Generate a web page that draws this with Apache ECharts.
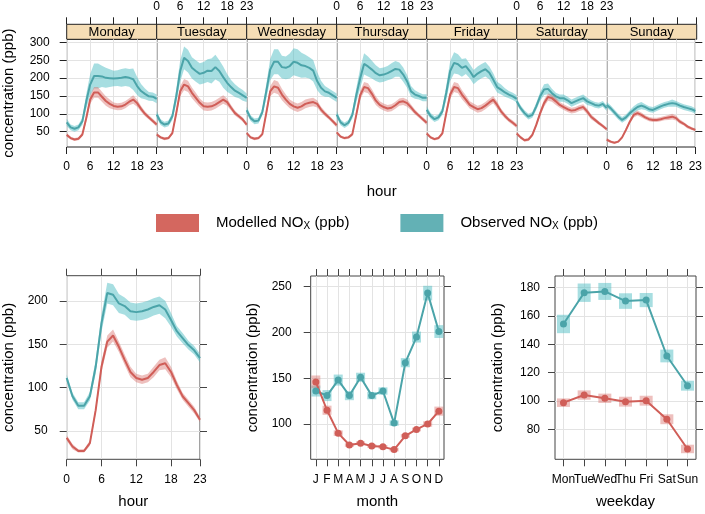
<!DOCTYPE html>
<html><head><meta charset="utf-8">
<script src="https://cdn.jsdelivr.net/npm/echarts@6/dist/echarts.min.js"></script>
<style>html,body{margin:0;padding:0;background:#fff}#c{width:705px;height:514px}</style>
</head><body><div id="c"></div>
<script>
// ---------- DATA ----------
const days = ['Monday','Tuesday','Wednesday','Thursday','Friday','Saturday','Sunday'];
const hours = ['0','1','2','3','4','5','6','7','8','9','10','11','12','13','14','15','16','17','18','19','20','21','22','23'];
const hourTicks = ['0','6','12','18','23'];

const obsMon = [76,62,58,62,79,135,182,206,206,205,201,200,199,200,201,203,201,197,178,164,156,149,148,142];
const modMon = [41,32,28,30,42,88,140,160,160,148,136,128,122,120,121,126,134,140,130,114,100,90,80,70];
const obsTue = [98,77,70,73,93,149,220,257,248,229,220,212,215,221,220,231,220,203,187,175,165,159,152,145];
const modTue = [42,34,30,32,46,102,163,182,177,159,145,131,121,120,121,126,133,140,133,117,102,93,84,70];
const obsWed = [110,88,79,81,105,163,224,246,246,231,229,234,246,243,236,234,229,221,192,173,163,159,152,145];
const modWed = [46,34,30,32,43,102,163,177,173,154,140,128,121,117,121,128,131,133,128,112,100,90,79,68];
const obsThu = [98,76,68,75,97,152,200,240,233,224,214,208,210,214,220,226,224,210,191,163,154,150,145,145];
const modThu = [48,36,32,34,43,97,152,175,172,156,137,125,119,115,117,124,133,135,130,118,105,95,85,75];
const obsFri = [111,94,85,90,107,159,220,243,239,229,234,220,203,213,220,225,215,196,175,168,160,154,149,142];
const modFri = [45,34,29,32,45,102,154,175,172,154,140,125,119,113,116,123,132,140,125,107,94,83,75,66];
const obsSat = [135,116,102,92,97,121,149,168,170,158,149,144,144,138,130,135,140,144,135,130,125,123,128,116];
const modSat = [45,34,26,28,41,69,102,130,147,144,135,125,119,113,109,111,116,119,107,92,83,74,66,57];
const obsSun = [125,116,104,92,83,90,102,111,119,123,119,113,111,116,121,125,128,130,128,123,119,116,113,108];
const modSun = [28,22,19,22,34,55,78,97,102,97,90,85,83,83,85,88,90,92,88,78,72,64,59,55];

// confidence-interval half widths
const ciObsMon = [10,8,8,8,10,20,30,35,35,30,28,25,22,22,25,25,25,30,25,20,15,12,12,12];
const ciObsTue = [10,8,8,8,10,20,30,32,32,30,30,30,30,32,35,35,30,30,25,20,18,15,15,12];
const ciObsWed = [10,8,8,8,10,20,30,35,35,32,32,35,38,38,35,32,30,30,25,20,15,12,12,12];
const ciObsThu = [10,8,8,8,10,20,28,30,28,25,22,20,20,20,22,22,20,20,18,15,12,10,10,10];
const ciObsFri = [10,8,8,8,10,20,28,30,28,25,22,20,20,20,20,20,18,18,15,14,12,10,10,10];
const ciObsSat = [8,8,8,8,8,10,12,15,15,12,10,10,10,10,10,10,10,10,10,8,8,8,8,8];
const ciObsSun = [8,8,8,8,8,8,8,10,10,10,8,8,8,8,8,8,8,10,8,8,8,8,8,8];
const ciModMon = [5,4,4,4,5,10,12,15,15,14,13,12,10,10,10,10,10,12,10,8,7,6,6,6];
const ciModTue = [5,4,4,4,5,10,14,16,16,15,14,12,12,12,12,12,12,12,10,8,7,6,6,6];
const ciModWed = [5,4,4,4,5,10,14,18,18,16,14,12,12,12,12,12,12,12,10,8,7,6,6,6];
const ciModThu = [5,4,4,4,5,10,12,14,14,13,12,10,10,10,10,10,10,10,10,8,7,6,6,6];
const ciModFri = [5,4,4,4,5,10,12,14,14,13,12,10,10,10,10,10,10,10,10,8,7,6,6,6];
const ciModSat = [5,4,4,4,5,6,8,10,10,10,10,8,8,8,8,8,8,8,8,7,6,5,5,5];
const ciModSun = [4,4,3,3,4,5,6,7,7,7,6,6,6,6,6,6,7,8,7,6,5,5,4,4];

const obsHour = [111,90,79,79,90,124,174,209,207,197,194,188,187,188,190,193,195,190,178,165,157,149,143,134];
const modHour = [42,32,27,27,36,74,124,153,160,147,132,118,111,109,111,118,126,128,118,103,90,82,74,63];
const ciObsHour = [4,4,4,4,5,8,10,12,12,11,10,10,10,10,10,10,10,10,8,6,6,5,5,5];
const ciModHour = [3,3,2,2,3,4,6,7,7,6,6,6,5,5,5,6,6,7,6,5,4,4,4,3];

const months = ['J','F','M','A','M','J','J','A','S','O','N','D'];
const obsMonth = [136,131,148,131,151,131,136,101,167,195,243,201];
const modMonth = [146,115,90,77,79,76,75,72,87,94,100,114];
const ciObsMonth = [6,6,6,5,5,4,4,3,5,6,8,7];
const ciModMonth = [7,5,3,2,2,2,2,2,2,2,3,5];

const weekdays = ['Mon','Tue','Wed','Thu','Fri','Sat','Sun'];
const obsWeekday = [154.4,176.5,177.4,170.6,171.3,131.8,110.8];
const modWeekday = [98.8,104.2,101.9,99.5,100.2,87.1,66.1];
const ciObsWeekday = [6.5,6.5,6,5.5,5,4.5,3.5];
const ciModWeekday = [3,3.3,3.3,3.5,3.5,3.5,3];

const topYTicks = [50,100,150,200,250,300];
const hourYTicks = [50,100,150,200];
const monthYTicks = [100,150,200,250];
const weekdayYTicks = [80,100,120,140,160,180];

const modName = 'Modelled NOX (ppb)';
const obsName = 'Observed NOX (ppb)';

// ---------- STYLE ----------
const FONT = 'Liberation Sans, Arial, sans-serif';
const RED = '#D05E58', TEAL = '#4BA4A9';
const RED_BAND = 'rgba(214,105,100,0.42)', TEAL_BAND = 'rgba(80,190,196,0.5)';
const RED_KEY = '#D4675F', TEAL_KEY = '#63B1B5';
const GRIDC = '#E3E3E3', FRAME = '#222', FRAME2 = '#444', STRIP = '#F5DDB5';

const perDay = [
  [obsMon, ciObsMon, modMon, ciModMon],
  [obsTue, ciObsTue, modTue, ciModTue],
  [obsWed, ciObsWed, modWed, ciModWed],
  [obsThu, ciObsThu, modThu, ciModThu],
  [obsFri, ciObsFri, modFri, ciModFri],
  [obsSat, ciObsSat, modSat, ciModSat],
  [obsSun, ciObsSun, modSun, ciModSun]
];

const grid = [], xAxis = [], yAxis = [], series = [], graphic = [];
const isHourTick = (i) => hourTicks.indexOf(hours[i]) >= 0;
const lab = (extra) => Object.assign({fontSize: 12, color: '#000', fontFamily: FONT}, extra);
const hiddenY = (gi) => ({gridIndex: gi, type: 'value', min: 0, max: 1, show: false,
  axisLine: {show: false}, axisTick: {show: false}, axisLabel: {show: false}, splitLine: {show: false}});

function addBand(xi, yi, mean, ci, color, stackId) {
  series.push({type: 'line', xAxisIndex: xi, yAxisIndex: yi, data: mean.map((v, i) => v - ci[i]),
    stack: stackId, symbol: 'none', lineStyle: {opacity: 0}, silent: true, z: 1});
  series.push({type: 'line', xAxisIndex: xi, yAxisIndex: yi, data: ci.map(c => 2 * c),
    stack: stackId, symbol: 'none', lineStyle: {opacity: 0}, areaStyle: {color: color, opacity: 1}, silent: true, z: 1});
}
function addLine(xi, yi, name, data, color, sym) {
  series.push({type: 'line', name: name, xAxisIndex: xi, yAxisIndex: yi, data: data,
    symbol: sym ? 'circle' : 'none', symbolSize: 7, showSymbol: !!sym,
    itemStyle: {color: color}, lineStyle: {color: color, width: 2}, z: 3});
}
function boxRender(width) {
  return function (params, api) {
    const x = api.value(0), lo = api.value(1), hi = api.value(2);
    const p1 = api.coord([x, hi]), p2 = api.coord([x, lo]);
    return {type: 'rect', shape: {x: p1[0] - width / 2, y: p1[1], width: width, height: p2[1] - p1[1]},
      style: {fill: api.visual('color')}};
  };
}
function addBoxes(xi, yi, mean, ci, color, width) {
  series.push({type: 'custom', xAxisIndex: xi, yAxisIndex: yi, renderItem: boxRender(width),
    itemStyle: {color: color}, encode: {x: 0, y: [1, 2]}, silent: true, z: 2,
    data: mean.map((v, i) => [i + 1, v - ci[i], v + ci[i]])});
}

// ---------- TOP: hour x day ----------
const P = {left: 66.7, w: 90, top: 39.3, h: 107.7, stripTop: 24.3, stripH: 15};
for (let d = 0; d < 7; d++) {
  const left = P.left + d * P.w;
  const gi = grid.length;
  grid.push({left: left, top: P.top, width: P.w, height: P.h, show: true, borderColor: FRAME, borderWidth: 1});
  grid.push({left: left, top: P.stripTop, width: P.w, height: P.stripH, show: true, borderColor: FRAME, borderWidth: 1, backgroundColor: STRIP});
  const xi = xAxis.length;
  xAxis.push({gridIndex: gi, type: 'category', data: hours, boundaryGap: false, position: 'bottom',
    axisLine: {show: false, onZero: false},
    axisTick: {show: true, length: 7, interval: isHourTick, lineStyle: {color: FRAME}},
    axisLabel: lab({show: d % 2 === 0, interval: isHourTick, margin: 14}),
    splitLine: {show: true, interval: isHourTick, lineStyle: {color: GRIDC}},
    name: d === 3 ? 'hour' : '', nameLocation: 'middle', nameGap: 37,
    nameTextStyle: {fontSize: 15, color: '#000', fontFamily: FONT}});
  xAxis.push({gridIndex: gi + 1, type: 'category', data: hours, boundaryGap: false, position: 'top',
    axisLine: {show: false, onZero: false},
    axisTick: {show: true, length: 7, interval: isHourTick, lineStyle: {color: FRAME}},
    axisLabel: lab({show: d % 2 === 1, interval: isHourTick, margin: 12}),
    splitLine: {show: false}, splitArea: {show: false}});
  const yi = yAxis.length;
  yAxis.push({gridIndex: gi, type: 'value', min: 7, max: 309,
    axisLine: {show: false},
    axisTick: {show: d === 0, length: 7, customValues: topYTicks, lineStyle: {color: FRAME}},
    axisLabel: lab({show: d === 0, customValues: topYTicks, margin: 17}),
    splitLine: {show: true, lineStyle: {color: GRIDC}},
    name: d === 0 ? 'concentration (ppb)' : '', nameLocation: 'middle', nameGap: 50,
    nameTextStyle: {fontSize: 15, color: '#000', fontFamily: FONT}});
  yAxis.push(hiddenY(gi + 1));
  const [obs, ciO, mod, ciM] = perDay[d];
  addBand(xi, yi, obs, ciO, TEAL_BAND, 'o' + d);
  addBand(xi, yi, mod, ciM, RED_BAND, 'm' + d);
  addLine(xi, yi, obsName, obs, TEAL, false);
  addLine(xi, yi, modName, mod, RED, false);
  graphic.push({type: 'text', x: left + P.w / 2, y: P.stripTop + P.stripH / 2 + 0.5, z: 100,
    style: {text: days[d], fontSize: 13, fontFamily: FONT, fill: '#000', align: 'center', verticalAlign: 'middle'}});
  if (d === 6) {
    yAxis.push({gridIndex: gi, type: 'value', min: 7, max: 309, position: 'right',
      axisLine: {show: false},
      axisTick: {show: true, length: 7, customValues: topYTicks, lineStyle: {color: FRAME}},
      axisLabel: {show: false}, splitLine: {show: false}});
  }
}

// ---------- BOTTOM panels ----------
function panel(box, yr, yTicks, xDef, yMargin) {
  const gi = grid.length;
  grid.push(Object.assign({show: true, borderColor: FRAME2, borderWidth: 1}, box));
  const xi = xAxis.length;
  xAxis.push(Object.assign({gridIndex: gi, position: 'bottom', axisLine: {show: false, onZero: false},
    nameLocation: 'middle', nameGap: 35, nameTextStyle: {fontSize: 15, color: '#000', fontFamily: FONT}}, xDef.bottom));
  xAxis.push(Object.assign({gridIndex: gi, position: 'top', axisLine: {show: false, onZero: false}}, xDef.top));
  const yi = yAxis.length;
  yAxis.push({gridIndex: gi, type: 'value', min: yr[0], max: yr[1], position: 'left',
    axisLine: {show: false},
    axisTick: {show: true, length: 7, customValues: yTicks, lineStyle: {color: FRAME2}},
    axisLabel: lab({customValues: yTicks, margin: yMargin}),
    splitLine: {show: true, lineStyle: {color: GRIDC}},
    name: 'concentration (ppb)', nameLocation: 'middle', nameGap: 50,
    nameTextStyle: {fontSize: 15, color: '#000', fontFamily: FONT}});
  yAxis.push({gridIndex: gi, type: 'value', min: yr[0], max: yr[1], position: 'right',
    axisLine: {show: false},
    axisTick: {show: true, length: 7, customValues: yTicks, lineStyle: {color: FRAME2}},
    axisLabel: {show: false}, splitLine: {show: false}});
  return [xi, yi];
}

// labels with blank sentinels at both ends so that no real label gets dropped for overlap
function catLabels(names, lo, hi) {
  return {values: [lo].concat(names.map((n, i) => i + 1), [hi]),
    fmt: v => (Math.abs(v - Math.round(v)) < 1e-6 && v >= 1 && v <= names.length) ? names[Math.round(v) - 1] : ' '};
}

// hour panel
{
  const tick = {show: true, length: 7, interval: isHourTick, lineStyle: {color: FRAME2}};
  const [xi, yi] = panel({left: 66.7, top: 275.7, width: 133.3, height: 183.6}, [17.3, 229], hourYTicks, {
    bottom: {type: 'category', data: hours, boundaryGap: false, axisTick: tick,
      axisLabel: lab({interval: isHourTick, margin: 14}),
      splitLine: {show: true, interval: isHourTick, lineStyle: {color: GRIDC}}, name: 'hour'},
    top: {type: 'category', data: hours, boundaryGap: false, axisTick: tick, axisLabel: {show: false}, splitLine: {show: false}}
  }, 19);
  addBand(xi, yi, obsHour, ciObsHour, TEAL_BAND, 'oh');
  addBand(xi, yi, modHour, ciModHour, RED_BAND, 'mh');
  addLine(xi, yi, obsName, obsHour, TEAL, false);
  addLine(xi, yi, modName, modHour, RED, false);
}

// month panel
{
  const mTicks = months.map((m, i) => i + 1);
  const L = catLabels(months, 0.54, 12.46);
  const tick = {show: true, length: 7, customValues: mTicks, lineStyle: {color: FRAME2}};
  const [xi, yi] = panel({left: 310.7, top: 276, width: 133.3, height: 183.3}, [61.4, 261.7], monthYTicks, {
    bottom: {type: 'value', min: 0.54, max: 12.46, axisTick: tick,
      axisLabel: lab({customValues: L.values, margin: 14, showMinLabel: false, showMaxLabel: false, formatter: L.fmt}),
      splitLine: {show: true, lineStyle: {color: GRIDC}}, name: 'month'},
    top: {type: 'value', min: 0.54, max: 12.46, axisTick: tick, axisLabel: {show: false, customValues: mTicks}, splitLine: {show: false}}
  }, 19);
  addBoxes(xi, yi, obsMonth, ciObsMonth, TEAL_BAND, 9);
  addBoxes(xi, yi, modMonth, ciModMonth, RED_BAND, 9);
  addLine(xi, yi, obsName, obsMonth.map((v, i) => [i + 1, v]), TEAL, true);
  addLine(xi, yi, modName, modMonth.map((v, i) => [i + 1, v]), RED, true);
}

// weekday panel
{
  const wTicks = weekdays.map((w, i) => i + 1);
  const L = catLabels(weekdays, 0.59, 7.41);
  const tick = {show: true, length: 7, customValues: wTicks, lineStyle: {color: FRAME2}};
  const [xi, yi] = panel({left: 555, top: 276, width: 141, height: 183.3}, [58.8, 188.3], weekdayYTicks, {
    bottom: {type: 'value', min: 0.59, max: 7.41, axisTick: tick,
      axisLabel: lab({customValues: L.values, margin: 14, showMinLabel: false, showMaxLabel: false, formatter: L.fmt}),
      splitLine: {show: true, lineStyle: {color: GRIDC}}, name: 'weekday'},
    top: {type: 'value', min: 0.59, max: 7.41, axisTick: tick, axisLabel: {show: false, customValues: wTicks}, splitLine: {show: false}}
  }, 15);
  addBoxes(xi, yi, obsWeekday, ciObsWeekday, TEAL_BAND, 13);
  addBoxes(xi, yi, modWeekday, ciModWeekday, RED_BAND, 13);
  addLine(xi, yi, obsName, obsWeekday.map((v, i) => [i + 1, v]), TEAL, true);
  addLine(xi, yi, modName, modWeekday.map((v, i) => [i + 1, v]), RED, true);
}

const chart = echarts.init(document.getElementById('c'), null, {renderer: 'canvas'});
chart.setOption({
  animation: false,
  backgroundColor: '#fff',
  textStyle: {fontFamily: FONT},
  grid: grid, xAxis: xAxis, yAxis: yAxis, series: series, graphic: graphic,
  legend: {
    left: 156, top: 214, padding: 0, itemWidth: 43, itemHeight: 18, itemGap: 51, icon: 'rect', selectedMode: false,
    data: [{name: modName, itemStyle: {color: RED_KEY}}, {name: obsName, itemStyle: {color: TEAL_KEY}}],
    formatter: n => n.replace('NOX', 'NO{sub|X}'),
    textStyle: {fontSize: 15, color: '#000', fontFamily: FONT, padding: [0, 0, 0, 12],
      rich: {sub: {fontSize: 10, color: '#000', fontFamily: FONT, verticalAlign: 'bottom', padding: [6, 0, 0, 0]}}}
  }
});
</script>
</body></html>
